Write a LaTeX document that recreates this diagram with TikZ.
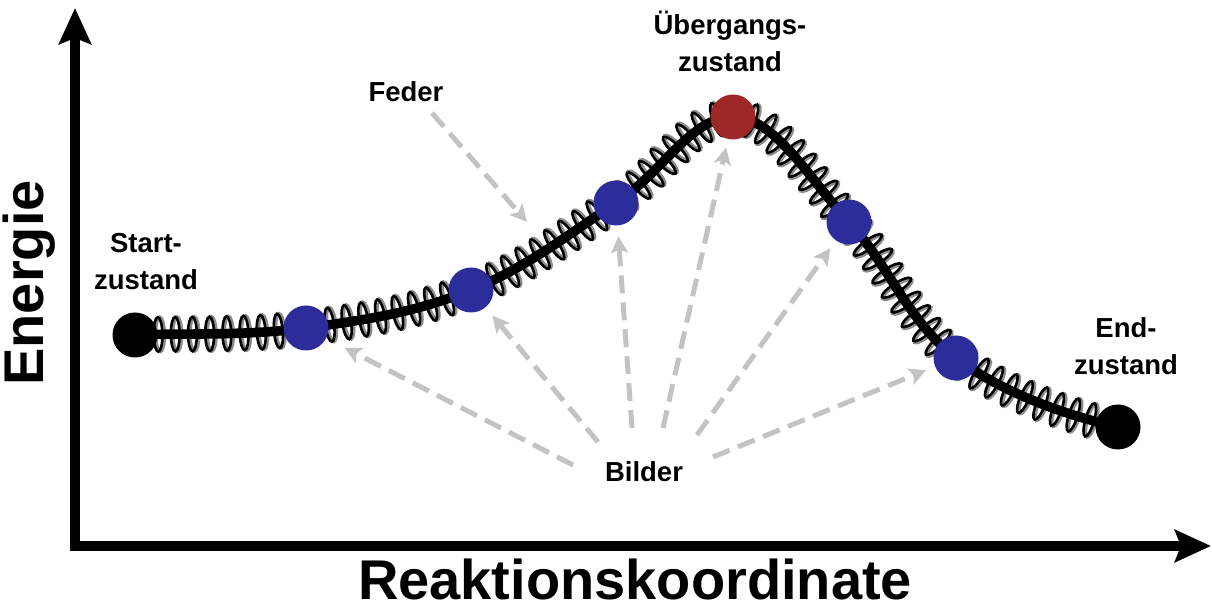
\documentclass[tikz,border=0pt]{standalone}
\usepackage{fontspec}
\setmainfont{Liberation Sans}
\usetikzlibrary{arrows.meta,decorations.markings}
\definecolor{imgblue}{RGB}{44,44,155}
\definecolor{tsred}{RGB}{158,40,40}
\definecolor{arrgray}{RGB}{195,195,195}
\definecolor{coilgray}{RGB}{140,140,140}
\begin{document}
\begin{tikzpicture}[x=0.25pt,y=-0.25pt,
  lbl/.style={font=\fontsize{6.875}{9.25}\selectfont\bfseries, align=center, inner sep=0pt},
  bigl/.style={font=\fontsize{14}{15}\selectfont\bfseries, inner sep=0pt},
  imgnode/.style={circle, inner sep=0pt, minimum size=11.25pt},
  axisline/.style={line width=2.5pt, line join=miter, {Stealth[length=9pt,width=8pt,inset=1.5pt]}-{Stealth[length=9pt,width=8pt,inset=1.5pt]}},
  ptr/.style={draw=arrgray, line width=1.25pt, dash pattern=on 4.5pt off 2.25pt, -{Stealth[length=4.25pt,width=4.25pt,inset=1pt]}},
  spring/.style={decorate, decoration={markings,
    mark=between positions 0.005 and 1 step 4.3pt with {
      \draw[coilgray, line width=0.85pt] (0.5pt,0pt) ellipse [x radius=1.1pt, y radius=4.3pt];
      \draw[black, line width=0.65pt] (0pt,0pt) ellipse [x radius=1.1pt, y radius=4.3pt];}}},
  mep/.style={draw=black, line width=2.4pt, line cap=round}
]
\useasboundingbox (0,0) rectangle (1212,608);

% axes
\coordinate (ytip) at (75,8);
\coordinate (orig) at (75,546);
\coordinate (xtip) at (1211,546);
\draw[axisline] (ytip) -- (orig) -- (xtip);
\node[bigl, rotate=90, anchor=base] (energie) at (43,283) {Energie};
\node[bigl, anchor=base] (rk) at (635,600) {Reaktionskoordinate};

% path points
\coordinate (p0) at (135,335);
\coordinate (p1) at (306,328);
\coordinate (p2) at (471,290);
\coordinate (p3) at (616,203);
\coordinate (p4) at (733,117);
\coordinate (p5) at (849,222);
\coordinate (p6) at (956,358);
\coordinate (p7) at (1118,427);

% springs
\path[spring] (p0) .. controls (185,333) and (245.5,336.1) .. (p1)
  .. controls (366.5,319.9) and (415.2,312.5) .. (p2)
  .. controls (526.8,267.5) and (568.8,234.1) .. (p3)
  .. controls (663.2,171.9) and (691,117) .. (p4)
  .. controls (775,117) and (808.9,178.6) .. (p5)
  .. controls (889.1,265.4) and (907.6,321.1) .. (p6)
  .. controls (1004.4,394.9) and (1073,417) .. (p7);
% path
\draw[mep] (p0) .. controls (185,333) and (245.5,336.1) .. (p1)
  .. controls (366.5,319.9) and (415.2,312.5) .. (p2)
  .. controls (526.8,267.5) and (568.8,234.1) .. (p3)
  .. controls (663.2,171.9) and (691,117) .. (p4)
  .. controls (775,117) and (808.9,178.6) .. (p5)
  .. controls (889.1,265.4) and (907.6,321.1) .. (p6)
  .. controls (1004.4,394.9) and (1073,417) .. (p7);

% images
\node[imgnode, fill=black] (start) at (p0) {};
\node[imgnode, fill=imgblue] (img1) at (p1) {};
\node[imgnode, fill=imgblue] (img2) at (p2) {};
\node[imgnode, fill=imgblue] (img3) at (p3) {};
\node[imgnode, fill=tsred] (ts) at (p4) {};
\node[imgnode, fill=imgblue] (img4) at (p5) {};
\node[imgnode, fill=imgblue] (img5) at (p6) {};
\node[imgnode, fill=black] (end) at (p7) {};

% labels (multi-line: base = last baseline)
\node[lbl, anchor=base] (startlbl) at (146,290) {Start-\\zustand};
\node[lbl, anchor=base] (tslbl) at (730,72) {Übergangs-\\zustand};
\node[lbl, anchor=base] (endlbl) at (1126,375) {End-\\zustand};
\node[lbl, anchor=base] (feder) at (406,102) {Feder};
\node[lbl, anchor=base] (bilder) at (644,482) {Bilder};

% pointers
\coordinate (f0) at (432,113);
\coordinate (f1) at (527,222);
\draw[ptr] (f0) -- (f1);
\coordinate (b1) at (573,465);
\coordinate (b2) at (598,442);
\coordinate (b3) at (632,428);
\coordinate (b4) at (663,428);
\coordinate (b5) at (697,435);
\coordinate (b6) at (713,457);
\draw[ptr, shorten >=5pt] (b1) -- (img1);
\draw[ptr, shorten >=2.5pt] (b2) -- (img2);
\draw[ptr, shorten >=2.5pt] (b3) -- (img3);
\draw[ptr, shorten >=2pt] (b4) -- (ts);
\draw[ptr, shorten >=2.25pt] (b5) -- (img4);
\draw[ptr, shorten >=2.25pt] (b6) -- (img5);
\end{tikzpicture}
\end{document}
